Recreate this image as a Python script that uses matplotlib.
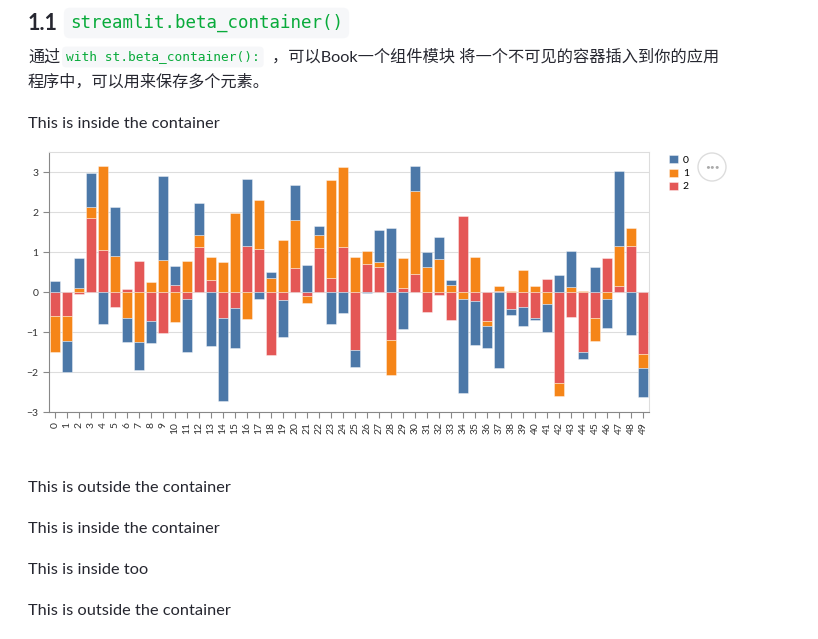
import numpy as np
import matplotlib.pyplot as plt
from matplotlib.patches import Ellipse

W, H = 818, 639

# series values per bar index 0..49
s0 = [0.27, -0.77, 0.74, 0.85, -0.8, 1.22, -0.62, -0.69, -0.55, 2.1,
      0.48, -1.32, 0.78, -1.35, -2.09, -0.99, 1.67, -0.17, 0.15, -0.94,
      0.88, 0.67, 0.24, -0.81, -0.52, -0.43, -0.02, 0.8, 1.61, -0.92,
      0.62, 0.38, 0.54, 0.12, -2.34, -1.1, -0.55, -1.9, -0.15, -0.48,
      -0.03, -0.7, 0.43, 0.9, -0.18, 0.63, -0.715, 1.875, -1.075, -0.73]
s1 = [-0.92, -0.62, 0.1, 0.27, 2.12, 0.91, -0.64, -1.26, 0.24, 0.81,
      -0.76, 0.77, 0.31, 0.58, 0.74, 1.975, -0.675, 1.22, 0.35, 1.31,
      1.19, -0.19, 0.33, 2.47, 2.0, 0.87, 0.33, 0.12, -0.88, 0.76,
      2.08, 0.63, 0.825, 0.18, -0.175, 0.875, -0.13, 0.14, 0.03, 0.54,
      0.16, -0.29, -0.31, 0.125, 0.025, -0.58, -0.175, 1.0, 0.44, -0.34]
s2 = [-0.59, -0.61, -0.05, 1.85, 1.04, -0.37, 0.07, 0.77, -0.73, -1.03,
      0.18, -0.17, 1.125, 0.3, -0.64, -0.4, 1.16, 1.075, -1.57, -0.19,
      0.6, -0.09, 1.09, 0.34, 1.125, -1.45, 0.7, 0.62, -1.2, 0.09,
      0.44, -0.5, -0.075, -0.69, 1.89, -0.225, -0.72, 0.02, -0.43, -0.375,
      -0.66, 0.325, -2.28, -0.625, -1.5, -0.65, 0.84, 0.15, 1.15, -1.55]
series = {"0": s0, "1": s1, "2": s2}
colors = {"0": "#4c78a8", "1": "#f58518", "2": "#e45756"}
x = np.arange(50)

text_color = "#262730"
plt.rcParams['font.family'] = ['Lato', 'Noto Sans CJK SC', 'DejaVu Sans']

fig = plt.figure(figsize=(W / 100, H / 100), dpi=100)


def fx(px):
    return px / W


def fy(py):
    return 1 - py / H


# header
fig.text(fx(28), fy(23), "1.1", fontsize=15.5, fontweight='bold', color=text_color, va='center')
fig.text(fx(70), fy(23), "streamlit.beta_container()", fontsize=12.65, family='DejaVu Sans Mono',
         color="#09ab3b", va='center',
         bbox=dict(boxstyle='round,pad=0.35', fc='#f6f7f9', ec='none'))

fig.text(fx(28), fy(57), "通过", fontsize=11.6, color=text_color, va='center')
fig.text(fx(66), fy(57), "with st.beta_container():", fontsize=9.3, family='DejaVu Sans Mono',
         color="#09ab3b", va='center',
         bbox=dict(boxstyle='round,pad=0.3', fc='#f6f7f9', ec='none'))
fig.text(fx(272), fy(57), "，可以Book一个组件模块 将一个不可见的容器插入到你的应用",
         fontsize=11.7, color=text_color, va='center')
fig.text(fx(28), fy(81), "程序中，可以用来保存多个元素。", fontsize=11.6, color=text_color, va='center')
fig.text(fx(28), fy(124), "This is inside the container", fontsize=11.8, color=text_color, va='center')

# chart
ax = fig.add_axes([fx(49), fy(412), fx(600), 260 / H])
pos_base = np.zeros(50)
neg_base = np.zeros(50)
handles = {}
for key in ["2", "1", "0"]:
    v = np.array(series[key])
    bottom = np.where(v >= 0, pos_base, neg_base)
    b = ax.bar(x, v, bottom=bottom, width=0.85, color=colors[key],
               edgecolor=(1, 1, 1, 0.45), linewidth=0.6, zorder=3)
    handles[key] = b
    pos_base = pos_base + np.where(v >= 0, v, 0)
    neg_base = neg_base + np.where(v < 0, v, 0)

ax.set_xlim(-0.5, 49.5)
ax.set_ylim(-3, 3.5)
ax.set_yticks(range(-3, 4))
ax.set_yticklabels(["\u22123", "\u22122", "\u22121", "0", "1", "2", "3"])
ax.set_xticks(x)
ax.set_xticklabels([str(i) for i in x], rotation=90)
ax.grid(axis='y', color='#dddddd', linewidth=0.8, zorder=0)
ax.tick_params(axis='both', labelsize=7.5, colors='#888888', labelcolor='#333333', length=4, width=0.8)
for side in ['top', 'right']:
    ax.spines[side].set_color('#dddddd')
    ax.spines[side].set_linewidth(0.8)
for side in ['left', 'bottom']:
    ax.spines[side].set_color('#888888')
    ax.spines[side].set_linewidth(0.8)

fig.legend([handles[k] for k in ["0", "1", "2"]], ["0", "1", "2"],
           loc='upper left', bbox_to_anchor=(fx(662), fy(148)), frameon=False,
           fontsize=7.5, handlelength=0.8, handleheight=0.8, handletextpad=0.5,
           labelspacing=0.35, borderpad=0.2)

# menu button
fig.patches.append(Ellipse((fx(712), fy(167)), 28 / W, 28 / H, transform=fig.transFigure,
                           fc='white', ec='#dddddd', lw=1.0))
fig.text(fx(712), fy(167), "•••", fontsize=6, color='#aaaaaa', ha='center', va='center')

# text below
for yy, s in [(488, "This is outside the container"), (529, "This is inside the container"),
              (570, "This is inside too"), (611, "This is outside the container")]:
    fig.text(fx(28), fy(yy), s, fontsize=11.8, color=text_color, va='center')

plt.savefig("out.png", dpi=100, facecolor='white')
